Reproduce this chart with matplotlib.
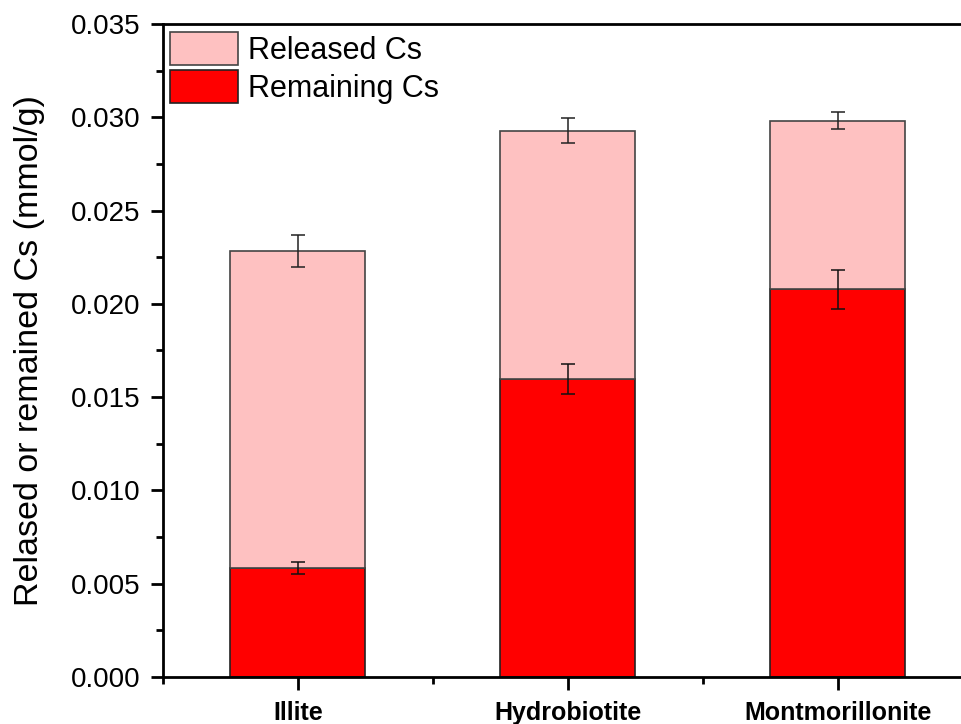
import numpy as np
import matplotlib
matplotlib.use("Agg")
import matplotlib.pyplot as plt
from matplotlib.ticker import MultipleLocator

plt.rcParams['font.family'] = ['Liberation Sans', 'DejaVu Sans']

minerals = ['Illite', 'Hydrobiotite', 'Montmorillonite']
remaining = [0.00584, 0.01596, 0.02078]
remaining_err = [0.0003, 0.0008, 0.00104]
released = [0.01699, 0.01332, 0.00904]
total_err = [0.00085, 0.00067, 0.00044]

x = np.arange(1, len(minerals) + 1)
total = np.array(remaining) + np.array(released)

fig = plt.figure(figsize=(9.62, 7.24), dpi=100)
ax = fig.add_axes([0.1694, 0.0649, 0.8417, 0.902])

ax.bar(x, remaining, 0.5, color='#ff0000', edgecolor='#222222', linewidth=1.2,
       label='Remaining Cs', zorder=2)
ax.bar(x, released, 0.5, bottom=remaining, color='#fec1c1', edgecolor='#444444',
       linewidth=1.2, label='Released Cs', zorder=2)
ax.errorbar(x, remaining, yerr=remaining_err, fmt='none', ecolor='#111111',
            elinewidth=1.1, capsize=5, capthick=1.1, zorder=3)
ax.errorbar(x, total, yerr=total_err, fmt='none', ecolor='#222222',
            elinewidth=1.1, capsize=5, capthick=1.1, zorder=3)

ax.set_xlim(0.5, 3.5)
ax.set_ylim(0, 0.035)
ax.set_xticks(x)
ax.set_xticklabels(minerals, fontsize=18, fontweight='bold')
ax.xaxis.set_minor_locator(MultipleLocator(0.5))
ax.yaxis.set_major_locator(MultipleLocator(0.005))
ax.yaxis.set_minor_locator(MultipleLocator(0.0025))
ax.yaxis.set_major_formatter(matplotlib.ticker.FormatStrFormatter('%.3f'))
ax.tick_params(axis='y', labelsize=20, pad=7)
ax.tick_params(which='major', direction='out', length=9, width=2)
ax.tick_params(which='minor', direction='out', length=5, width=2)
ax.tick_params(axis='x', pad=8)
for s in ax.spines.values():
    s.set_linewidth(2)

ax.set_ylabel('Relased or remained Cs (mmol/g)', fontsize=24.5, labelpad=19)

h, l = ax.get_legend_handles_labels()
ax.legend(h[::-1], l[::-1], loc='upper left', bbox_to_anchor=(0.009, 0.987),
          frameon=False, fontsize=22, borderaxespad=0, borderpad=0,
          handlelength=2.23, handleheight=1.25, handletextpad=0.33,
          labelspacing=0.15)

fig.savefig('out.png', dpi=100)
